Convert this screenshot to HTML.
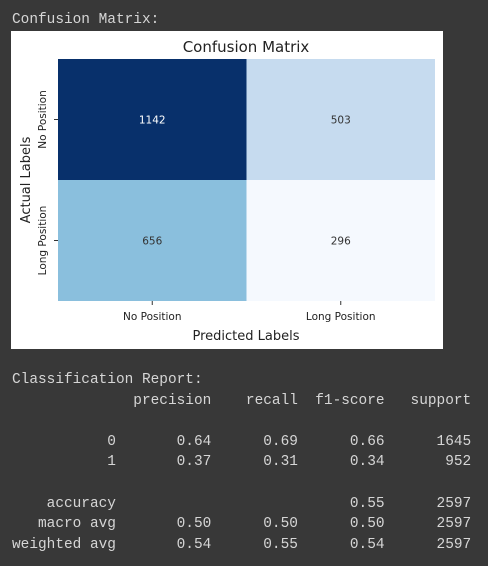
<!DOCTYPE html>
<html><head><meta charset="utf-8"><style>
html,body{margin:0;padding:0;background:#383838;width:488px;height:566px;overflow:hidden}
.mono{position:absolute;left:12px;font-family:"Liberation Mono",monospace;font-size:14.45px;color:#d6d6d6;white-space:pre;line-height:20.6px}
</style></head><body>
<div class="mono" style="top:10px">Confusion Matrix:</div>
<svg style="position:absolute;left:0;top:0" width="488" height="566">
<rect x="11" y="31" width="432" height="318" fill="#fff"/>
<text x="246" y="52" text-anchor="middle" font-family="DejaVu Sans,sans-serif" font-size="15" fill="#222">Confusion Matrix</text>
<g id="cells"></g>
<text x="246" y="340" text-anchor="middle" font-family="DejaVu Sans,sans-serif" font-size="13" fill="#222">Predicted Labels</text>
<text transform="translate(30,180) rotate(-90)" text-anchor="middle" font-family="DejaVu Sans,sans-serif" font-size="13" fill="#222">Actual Labels</text>
</svg>
<div class="mono" style="top:370px">Classification Report:
              precision    recall  f1-score   support

           0       0.64      0.69      0.66      1645
           1       0.37      0.31      0.34       952

    accuracy                           0.55      2597
   macro avg       0.50      0.50      0.50      2597
weighted avg       0.54      0.55      0.54      2597</div>
<script>
const labels=["No Position","Long Position"];
const values=[[1142,503],[656,296]];
const colors=[["#08306b","#c6dbef"],["#8abfdd","#f5f9fe"]];
const x0=58,x1=435,y0=59,y1=301;
const cw=(x1-x0)/labels.length, ch=(y1-y0)/labels.length;
const ns="http://www.w3.org/2000/svg";
const g=document.getElementById('cells');
function mk(t,a){const e=document.createElementNS(ns,t);for(const k in a)e.setAttribute(k,a[k]);g.appendChild(e);return e;}
values.forEach((row,i)=>row.forEach((v,j)=>{
  const r=mk('rect',{x:x0+j*cw,y:y0+i*ch,width:cw,height:ch,fill:colors[i][j]});
  
  
  const t=mk('text',{x:x0+j*cw+cw/2,y:y0+i*ch+ch/2+4,'text-anchor':'middle','font-family':'DejaVu Sans,sans-serif','font-size':'10.5',fill:(i==0&&j==0)?'#fff':'#333'});
  t.textContent=v;
  
  
}));
labels.forEach((l,j)=>{
  const cx=x0+j*cw+cw/2;
  mk('line',{x1:cx,x2:cx,y1:y1,y2:y1+4,stroke:'#333'});
  const t=mk('text',{x:cx,y:y1+19,'text-anchor':'middle','font-family':'DejaVu Sans,sans-serif','font-size':'10.5',fill:'#222'});
  t.textContent=l;
  
  
  const cy=y0+j*ch+ch/2;
  mk('line',{x1:x0-4,x2:x0,y1:cy,y2:cy,stroke:'#333'});
  const u=mk('text',{transform:`translate(${x0-12},${cy}) rotate(-90)`,'text-anchor':'middle','font-family':'DejaVu Sans,sans-serif','font-size':'10.5',fill:'#222'});
  u.textContent=l;
  
  
});
</script>
</body></html>
